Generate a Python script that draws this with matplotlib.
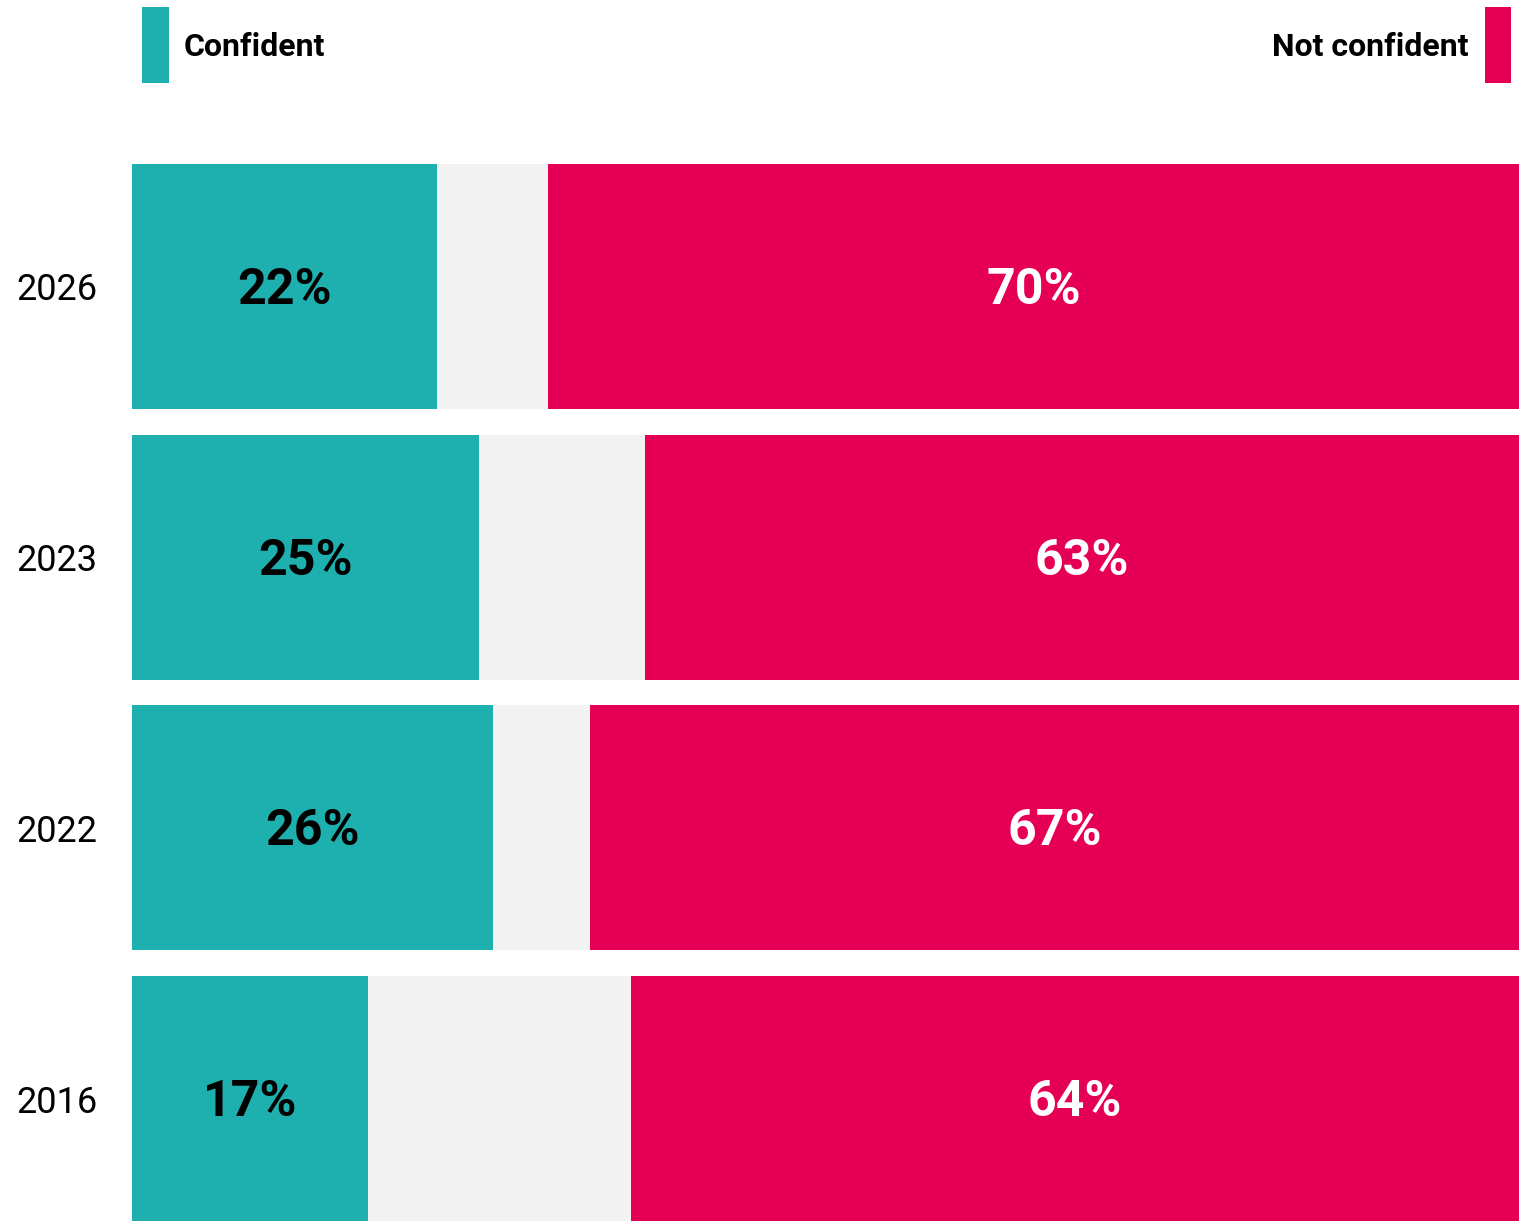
import matplotlib
matplotlib.use("Agg")
import matplotlib.pyplot as plt
from matplotlib.patches import Rectangle

years = ["2026", "2023", "2022", "2016"]
confident = [22, 25, 26, 17]
not_confident = [70, 63, 67, 64]
neither = [100 - c - n for c, n in zip(confident, not_confident)]

TEAL = "#1EB0AF"
CRIMSON = "#E50056"
GRAY = "#F2F2F2"

plt.rcParams['font.family'] = ['Roboto', 'DejaVu Sans']

W, H = 1532, 1221
fig = plt.figure(figsize=(W / 100, H / 100), dpi=100)
ax = fig.add_axes([132 / W, 0, 1387 / W, 1057 / H])

bh = 0.905
ypos = list(range(len(years)))
ax.barh(ypos, confident, height=bh, color=TEAL, linewidth=0)
ax.barh(ypos, neither, left=confident, height=bh, color=GRAY, linewidth=0)
left_nc = [c + m for c, m in zip(confident, neither)]
ax.barh(ypos, not_confident, left=left_nc, height=bh, color=CRIMSON, linewidth=0)

ax.set_xlim(0, 100)
ax.set_ylim(len(years) - 1 + bh / 2, -bh / 2)
for s in ax.spines.values():
    s.set_visible(False)
ax.set_xticks([])
ax.set_yticks(ypos)
ax.set_yticklabels(years, fontsize=26)
ax.tick_params(axis='y', length=0, pad=25)

for i in ypos:
    ax.text(confident[i] / 2, i + 0.015, f"{confident[i]}%", ha='center', va='center',
            fontsize=36, fontweight='bold', color='black')
    ax.text(left_nc[i] + not_confident[i] / 2, i + 0.015, f"{not_confident[i]}%",
            ha='center', va='center', fontsize=36, fontweight='bold', color='white')

# legend
fig.patches.append(Rectangle((142 / W, 1 - 83 / H), 27 / W, 76 / H,
                             transform=fig.transFigure, color=TEAL, linewidth=0))
fig.patches.append(Rectangle((1485 / W, 1 - 83 / H), 26 / W, 76 / H,
                             transform=fig.transFigure, color=CRIMSON, linewidth=0))
fig.text(184 / W, 1 - 47 / H, "Confident", ha='left', va='center',
         fontsize=23, fontweight='bold', color='black')
fig.text(1468 / W, 1 - 47 / H, "Not confident", ha='right', va='center',
         fontsize=23, fontweight='bold', color='black')

fig.savefig("out.png", dpi=100, facecolor='white')
